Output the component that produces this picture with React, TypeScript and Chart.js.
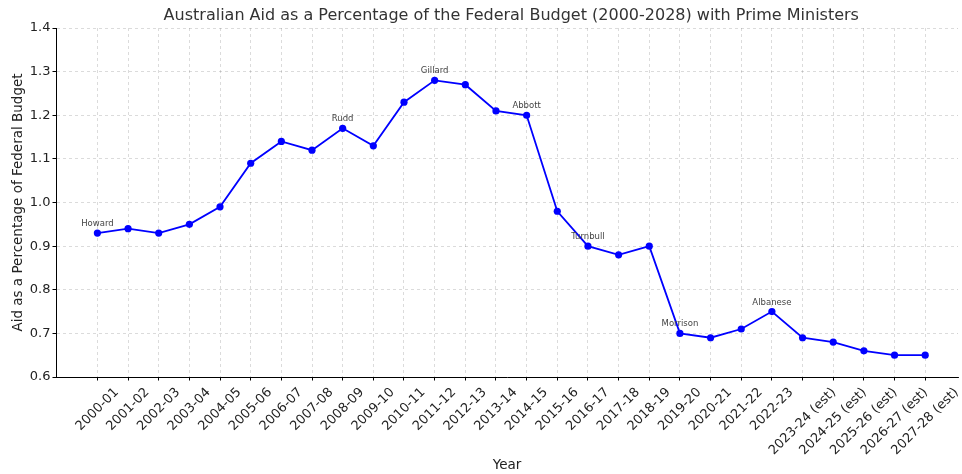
import React, { useEffect, useRef } from 'react';
import { Chart, registerables } from 'chart.js';

Chart.register(...registerables);

const years: string[] = [
  '2000-01', '2001-02', '2002-03', '2003-04', '2004-05', '2005-06', '2006-07',
  '2007-08', '2008-09', '2009-10', '2010-11', '2011-12', '2012-13', '2013-14',
  '2014-15', '2015-16', '2016-17', '2017-18', '2018-19', '2019-20', '2020-21',
  '2021-22', '2022-23', '2023-24 (est)', '2024-25 (est)', '2025-26 (est)',
  '2026-27 (est)', '2027-28 (est)',
];

const aidPct: number[] = [
  0.93, 0.94, 0.93, 0.95, 0.99, 1.09, 1.14, 1.12, 1.17, 1.13, 1.23, 1.28, 1.27,
  1.21, 1.2, 0.98, 0.9, 0.88, 0.9, 0.7, 0.69, 0.71, 0.75, 0.69, 0.68, 0.66,
  0.65, 0.65,
];

const pmNames: string[] = ['Howard', 'Rudd', 'Gillard', 'Abbott', 'Turnbull', 'Morrison', 'Albanese'];
const pmStartYears: string[] = ['2000-01', '2008-09', '2011-12', '2014-15', '2016-17', '2019-20', '2022-23'];

const yMin = 0.6;
const yMax = 1.4;
const yStep = 0.1;
const xMin = -1.35;
const xMax = 28.07;

const titleText = 'Australian Aid as a Percentage of the Federal Budget (2000-2028) with Prime Ministers';
const xTitle = 'Year';
const yTitle = 'Aid as a Percentage of Federal Budget';

const FONT = "'DejaVu Sans', 'Liberation Sans', sans-serif";

export default function App() {
  const ref = useRef<HTMLCanvasElement | null>(null);

  useEffect(() => {
    document.body.style.margin = '0';
    const canvas = ref.current;
    if (!canvas) return;

    const extras = {
      id: 'extras',
      afterDraw(chart: any) {
        const ctx = chart.ctx;
        const area = chart.chartArea;
        const xs = chart.scales.x;
        const centre = (xs.getPixelForValue(0) + xs.getPixelForValue(years.length - 1)) / 2;
        // title
        ctx.save();
        ctx.fillStyle = '#333';
        ctx.font = `16px ${FONT}`;
        ctx.textAlign = 'center';
        ctx.textBaseline = 'alphabetic';
        ctx.fillText(titleText, centre, 19.5);
        ctx.restore();

        // rotated x tick labels, centred on the tick (matplotlib style)
        ctx.save();
        ctx.fillStyle = '#222';
        ctx.font = `13px ${FONT}`;
        ctx.textAlign = 'center';
        ctx.textBaseline = 'middle';
        const top = area.bottom + 8;
        const s = Math.SQRT1_2;
        years.forEach((lab, i) => {
          const x = xs.getPixelForValue(i);
          const w = ctx.measureText(lab).width;
          const h = 15;
          const cy = top + ((w + h) * s) / 2;
          ctx.save();
          ctx.translate(x, cy);
          ctx.rotate(-Math.PI / 4);
          ctx.fillText(lab, 0, 0);
          ctx.restore();
        });
        ctx.restore();

        // PM annotations
        const meta = chart.getDatasetMeta(0);
        ctx.save();
        ctx.fillStyle = '#444';
        ctx.font = `8.5px ${FONT}`;
        ctx.textAlign = 'center';
        ctx.textBaseline = 'alphabetic';
        pmNames.forEach((name, k) => {
          const idx = years.indexOf(pmStartYears[k]);
          const pt = meta.data[idx];
          if (!pt) return;
          ctx.fillText(name, pt.x, pt.y - 7);
        });
        ctx.restore();
      },
    };

    const chart = new Chart(canvas, {
      type: 'line',
      data: {
        datasets: [
          {
            data: aidPct.map((v, i) => ({ x: i, y: v })),
            borderColor: '#0000ff',
            backgroundColor: '#0000ff',
            borderWidth: 1.8,
            pointRadius: 3.6,
            pointBorderWidth: 0,
            pointBackgroundColor: '#0000ff',
            tension: 0,
          },
        ],
      },
      options: {
        responsive: false,
        maintainAspectRatio: false,
        animation: false,
        devicePixelRatio: 1,
        layout: { padding: { top: 28, right: -5, left: 0, bottom: 0 } },
        plugins: {
          legend: { display: false },
          tooltip: { enabled: false },
          title: { display: false },
        },
        scales: {
          x: {
            type: 'linear',
            min: xMin,
            max: xMax,
            afterBuildTicks: (scale: any) => {
              scale.ticks = years.map((_, i) => ({ value: i }));
            },
            afterFit: (scale: any) => {
              scale.height = 97;
              scale.paddingLeft = 0;
              scale.paddingRight = 0;
            },
            ticks: { display: false, autoSkip: false },
            grid: {
              color: 'rgba(0,0,0,0.18)',
              lineWidth: 0.8,
              tickColor: '#000',
              tickLength: 3.5,
              tickWidth: 1,
              drawTicks: true,
            },
            border: { display: true, color: '#000', width: 1, dash: [3, 3] },
            title: {
              display: true,
              text: xTitle,
              color: '#222',
              font: { family: FONT, size: 13.5 },
              padding: { top: 0, bottom: 0 },
            },
          },
          y: {
            type: 'linear',
            min: yMin,
            max: yMax,
            afterFit: (scale: any) => {
              scale.width = 56;
              scale.paddingTop = 0;
              scale.paddingBottom = 0;
            },
            ticks: {
              stepSize: yStep,
              color: '#222',
              padding: 2,
              font: { family: FONT, size: 13 },
              callback: (v: any) => Number(v).toFixed(1),
            },
            grid: {
              color: 'rgba(0,0,0,0.18)',
              lineWidth: 0.8,
              tickColor: '#000',
              tickLength: 3.5,
              tickWidth: 1,
              drawTicks: true,
            },
            border: { display: true, color: '#000', width: 1, dash: [3, 3] },
            title: {
              display: true,
              text: yTitle,
              color: '#222',
              font: { family: FONT, size: 13.5 },
              padding: { top: 10, bottom: 0 },
            },
          },
        },
      },
      plugins: [extras],
    } as any);

    return () => {
      chart.destroy();
    };
  }, []);

  return <canvas ref={ref} width={962} height={474} style={{ display: 'block', width: 962, height: 474 }} />;
}
